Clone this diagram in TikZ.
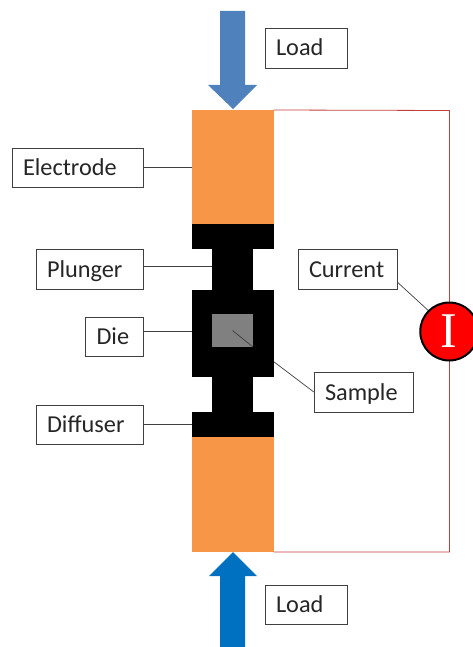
\documentclass[tikz,border=0pt]{standalone}
\usepackage{fontspec}
\setmainfont{Carlito}
\newfontfamily\meterfont{Liberation Serif}
\usetikzlibrary{positioning}
\colorlet{penColor}{black!75}
\definecolor{wireColor}{HTML}{C0403F}
\definecolor{electrodeColor}{HTML}{F79646}
\definecolor{loadTop}{HTML}{4F81BD}
\definecolor{loadBot}{HTML}{0070C0}
\tikzset{
	labelbox/.style={draw=penColor, fill=white, inner xsep=11pt, inner ysep=0pt, minimum height=39.5pt, text height=18pt, text depth=2pt, align=left, font=\fontsize{24.3}{26}\selectfont, text=black!85},
	block/.style={inner sep=0pt, outer sep=0pt, fill=black},
	electrode/.style={block, fill=electrodeColor, minimum width=81.5pt},
	leader/.style={draw=penColor, line width=.7pt},
	wire/.style={draw=wireColor, line width=.8pt}
}
\begin{document}
\begin{tikzpicture}[x=1pt,y=-1pt]
	\useasboundingbox (0,0) rectangle (473,647);
	% labels
	\node [labelbox, text width=60pt] (labelLoadTop) at (306,48) {Load};
	\node [labelbox, text width=60pt] (labelLoadBot) at (306,604.5) {Load};
	\node [labelbox, text width=109pt] (labelElectrode) at (77.5,167.5) {Electrode};
	\node [labelbox, text width=85pt] (labelPlunger) at (89.5,269) {Plunger};
	\node [labelbox, text width=35.5pt] (labelDie) at (114.25,336.5) {Die};
	\node [labelbox, text width=85pt] (labelDiffuser) at (89.5,424.5) {Diffuser};
	\node [labelbox, text width=77pt] (labelCurrent) at (347.5,269) {Current};
	\node [labelbox, text width=77pt] (labelSample) at (363.5,392) {Sample};

	% this one runs under the die
	\coordinate (sampleMid) at (232.5,330.5);
	\draw [leader] (sampleMid) -- (labelSample.west);

	% electrodes and the stack between them
	\node [electrode, minimum height=114pt] (electrodeTop) at (232.75,167) {};
	\node [electrode, minimum height=115pt] (electrodeBot) at (232.75,494.5) {};
	\node [block, minimum width=81.5pt, minimum height=25pt] (flangeTop) at (232.75,236.5) {};
	\node [block, minimum width=41pt, minimum height=42pt] (neckTop) at (232.75,269.5) {};
	\node [block, minimum width=81.5pt, minimum height=87pt] (die) at (232.75,333.5) {};
	\node [block, minimum width=41pt, minimum height=36pt] (neckBot) at (232.75,394.5) {};
	\node [block, minimum width=81.5pt, minimum height=25pt] (flangeBot) at (232.75,424.5) {};
	\node [block, fill=black!50, minimum width=41pt, minimum height=33pt] (sampleBlock) at (sampleMid) {};
	\draw [leader] (sampleMid) -- (sampleBlock.south east);

	% load arrows
	\fill [loadTop] (220,11) -- (245,11) -- (245,85) -- (257,85) -- (233,109) -- (208,85) -- (220,85) -- cycle;
	\fill [loadBot] (220,647) -- (245,647) -- (245,576) -- (257,576) -- (233,552) -- (209,576) -- (220,576) -- cycle;

	% circuit
	\coordinate (wireTop) at (449.5,110.5);
	\coordinate (wireBot) at (449.5,552);
	\draw [wire] (electrodeTop.north east) -- (wireTop) -- (wireBot) -- (electrodeBot.south east);
	\node [circle, draw=black, line width=2pt, fill=red, inner sep=0pt, minimum size=58pt, text=white, font=\meterfont\fontsize{50}{50}\selectfont] (meterI) at (449.25,331.5) {I};

	\draw [leader] (labelElectrode.east) -- (labelElectrode.east -| electrodeTop.west);
	\draw [leader] ([yshift=3pt]labelPlunger.east) -- ([yshift=3.5pt]neckTop.west);
	\draw [leader] ([yshift=5.5pt]labelDie.east) -- ([yshift=2.5pt]die.west);
	\draw [leader] (labelDiffuser.east) -- (flangeBot.west);
	\draw [leader] ([yshift=-13pt]labelCurrent.east) -- (meterI.135);
\end{tikzpicture}
\end{document}
